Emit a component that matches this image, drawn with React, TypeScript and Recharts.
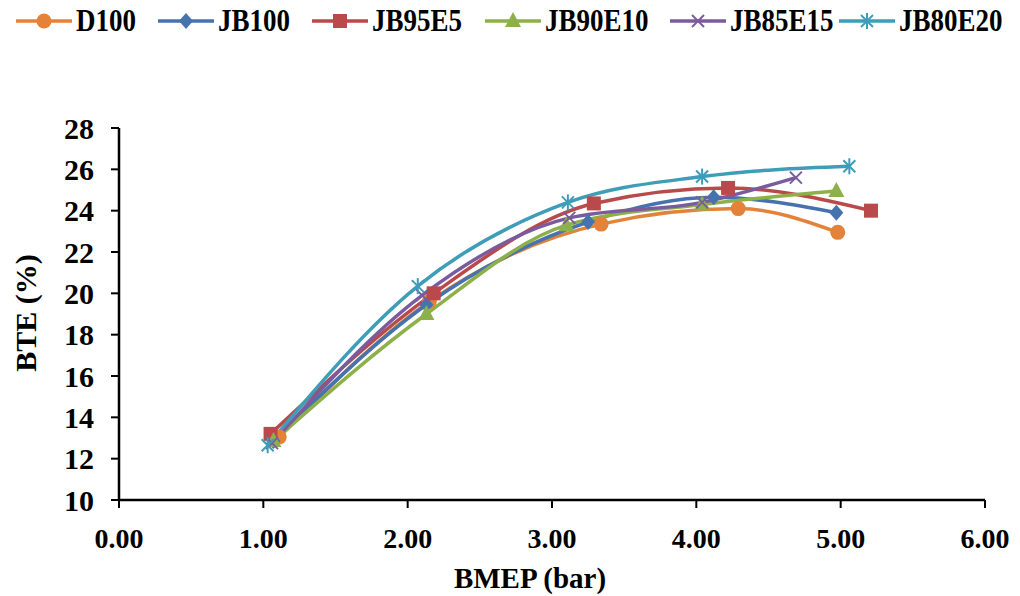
import React from "react";
import { LineChart, Line, XAxis, YAxis, Label } from "recharts";

// BMEP (bar) / BTE (%) for each fuel blend
const D100_X = [1.11, 2.15, 3.34, 4.29, 4.98];
const D100_Y = [13.05, 19.6, 23.35, 24.1, 22.95];
const JB100_X = [1.07, 2.13, 3.25, 4.12, 4.97];
const JB100_Y = [12.85, 19.45, 23.45, 24.65, 23.9];
const JB95E5_X = [1.05, 2.18, 3.29, 4.22, 5.21];
const JB95E5_Y = [13.2, 20.0, 24.35, 25.1, 24.0];
const JB90E10_X = [1.07, 2.13, 3.1, 4.04, 4.97];
const JB90E10_Y = [12.85, 19.0, 23.3, 24.3, 24.95];
const JB85E15_X = [1.06, 2.1, 3.12, 4.04, 4.69];
const JB85E15_Y = [12.75, 19.9, 23.65, 24.4, 25.6];
const JB80E20_X = [1.03, 2.07, 3.11, 4.04, 5.06];
const JB80E20_Y = [12.65, 20.35, 24.4, 25.65, 26.15];

const X_TICKS = [0, 1, 2, 3, 4, 5, 6];
const Y_TICKS = [10, 12, 14, 16, 18, 20, 22, 24, 26, 28];

const FONT = "'Liberation Serif', 'Times New Roman', serif";

type Shape = "circle" | "diamond" | "square" | "triangle" | "x" | "star";

const toRows = (xs: number[], ys: number[]) =>
  xs.map((x, i) => ({ x, y: ys[i] }));

const SERIES: { name: string; color: string; shape: Shape; data: { x: number; y: number }[] }[] = [
  { name: "D100", color: "#E4823A", shape: "circle", data: toRows(D100_X, D100_Y) },
  { name: "JB100", color: "#4673AD", shape: "diamond", data: toRows(JB100_X, JB100_Y) },
  { name: "JB95E5", color: "#B9494A", shape: "square", data: toRows(JB95E5_X, JB95E5_Y) },
  { name: "JB90E10", color: "#8DB04B", shape: "triangle", data: toRows(JB90E10_X, JB90E10_Y) },
  { name: "JB85E15", color: "#7A5C9E", shape: "x", data: toRows(JB85E15_X, JB85E15_Y) },
  { name: "JB80E20", color: "#3F9DB8", shape: "star", data: toRows(JB80E20_X, JB80E20_Y) },
];

// legend item left edges (px)
const LEGEND_X = [8, 150, 304, 477, 662, 831];

function Marker({ shape, cx, cy, color }: { shape: Shape; cx: number; cy: number; color: string }) {
  switch (shape) {
    case "circle":
      return <circle cx={cx} cy={cy} r={7.5} fill={color} />;
    case "diamond":
      return (
        <polygon
          points={`${cx},${cy - 8} ${cx + 7},${cy} ${cx},${cy + 8} ${cx - 7},${cy}`}
          fill={color}
        />
      );
    case "square":
      return <rect x={cx - 7} y={cy - 7} width={14} height={14} fill={color} />;
    case "triangle":
      return (
        <polygon
          points={`${cx},${cy - 9} ${cx + 8},${cy + 6} ${cx - 8},${cy + 6}`}
          fill={color}
        />
      );
    case "x":
      return (
        <g stroke={color} strokeWidth={2}>
          <line x1={cx - 6} y1={cy - 6} x2={cx + 6} y2={cy + 6} />
          <line x1={cx - 6} y1={cy + 6} x2={cx + 6} y2={cy - 6} />
        </g>
      );
    default:
      return (
        <g stroke={color} strokeWidth={2}>
          <line x1={cx - 6} y1={cy - 6} x2={cx + 6} y2={cy + 6} />
          <line x1={cx - 6} y1={cy + 6} x2={cx + 6} y2={cy - 6} />
          <line x1={cx} y1={cy - 8} x2={cx} y2={cy + 8} />
        </g>
      );
  }
}

const ChartLegend = () => (
  <div style={{ position: "absolute", left: 0, top: 0, width: 1012, height: 26 }}>
    {SERIES.map((s, i) => (
      <div
        key={s.name}
        style={{
          position: "absolute",
          left: LEGEND_X[i],
          top: 0,
          display: "flex",
          alignItems: "center",
          height: 26,
        }}
      >
        <svg width={56} height={20}>
          <line x1={0} y1={10} x2={56} y2={10} stroke={s.color} strokeWidth={3.5} />
          <Marker shape={s.shape} cx={28} cy={10} color={s.color} />
        </svg>
        <span
          style={{
            marginLeft: 4,
            fontFamily: FONT,
            fontWeight: "bold",
            fontSize: 27,
            color: "#000",
            lineHeight: "26px",
            display: "inline-block",
            transform: "scaleY(1.15)",
          }}
        >
          {s.name}
        </span>
      </div>
    ))}
  </div>
);

export default function App() {
  return (
    <div style={{ position: "relative", width: 1012, height: 588 }}>
      <ChartLegend />
      <LineChart
        width={1012}
        height={588}
        margin={{ top: 120, right: 35, left: 0, bottom: 0 }}
      >
        <XAxis
          type="number"
          dataKey="x"
          domain={[0, 6]}
          ticks={X_TICKS}
          tickFormatter={(v: number) => v.toFixed(2)}
          allowDataOverflow
          height={96}
          tickSize={8}
          tickMargin={20}
          axisLine={{ stroke: "#000", strokeWidth: 2.5 }}
          tickLine={{ stroke: "#000", strokeWidth: 2 }}
          tick={{ fill: "#000", fontFamily: FONT, fontWeight: "bold", fontSize: 28 }}
        >
          <Label
            content={() => (
              <text
                x={522}
                y={570}
                textAnchor="middle"
                dominantBaseline="central"
                fontFamily={FONT}
                fontWeight="bold"
                fontSize={29}
                fill="#000"
              >
                BMEP (bar)
              </text>
            )}
          />
        </XAxis>
        <YAxis
          type="number"
          dataKey="y"
          domain={[10, 28]}
          ticks={Y_TICKS}
          allowDataOverflow
          width={111}
          tickSize={8}
          tickMargin={17}
          axisLine={{ stroke: "#000", strokeWidth: 2.5 }}
          tickLine={{ stroke: "#000", strokeWidth: 2 }}
          tick={{ fill: "#000", fontFamily: FONT, fontWeight: "bold", fontSize: 30 }}
        >
          <Label
            content={() => (
              <text
                x={17}
                y={305}
                transform="rotate(-90 17 305)"
                textAnchor="middle"
                dominantBaseline="central"
                fontFamily={FONT}
                fontWeight="bold"
                fontSize={30}
                fill="#000"
              >
                BTE (%)
              </text>
            )}
          />
        </YAxis>
        {SERIES.map((s) => (
          <Line
            key={s.name}
            data={s.data}
            dataKey="y"
            name={s.name}
            type="monotone"
            stroke={s.color}
            strokeWidth={3.5}
            isAnimationActive={false}
            dot={(p: any) => (
              <Marker key={`${s.name}-${p.index}`} shape={s.shape} cx={p.cx} cy={p.cy} color={s.color} />
            )}
            activeDot={false}
          />
        ))}
      </LineChart>
    </div>
  );
}
